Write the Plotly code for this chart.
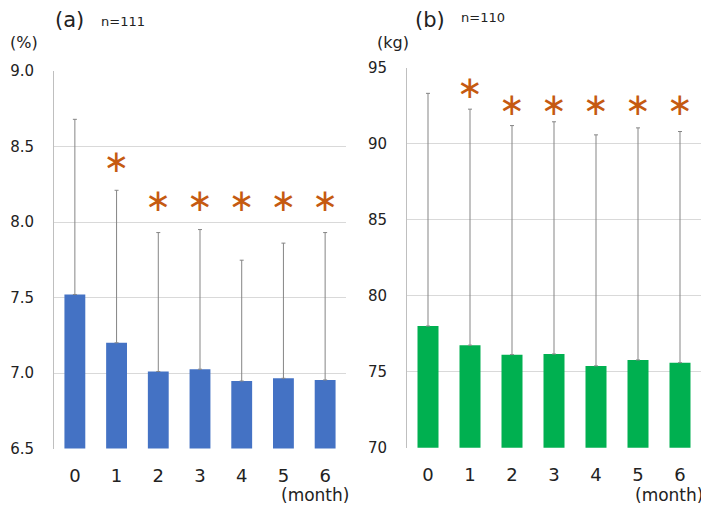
import plotly.graph_objects as go

months = ["0", "1", "2", "3", "4", "5", "6"]

# (a) HbA1c (%), n=111
hba1c_mean = [7.52, 7.20, 7.01, 7.025, 6.947, 6.965, 6.954]
hba1c_sd = [1.16, 1.01, 0.92, 0.925, 0.80, 0.895, 0.976]
hba1c_sig_y = [None, 8.38, 8.125, 8.125, 8.125, 8.125, 8.125]

# (b) body weight (kg), n=110
weight_mean = [78.0, 76.74, 76.12, 76.16, 75.38, 75.77, 75.59]
weight_sd = [15.3, 15.52, 15.06, 15.27, 15.19, 15.26, 15.2]
weight_sig_y = [None, 93.49, 92.37, 92.37, 92.37, 92.37, 92.37]

# page body has an 8px margin: the figure is drawn at (8, 8) in the window
OFF = 8
W, H = 709 - OFF, 509 - OFF
def px(x):
    return (x - OFF) / W
def py(y):
    return 1 - (y - OFF) / H

FONT = "DejaVu Sans"
STAR = "#C55A11"
ERR = "#858585"

fig = go.Figure()

fig.add_trace(go.Bar(
    x=months, y=hba1c_mean, marker=dict(color="#4472C4", line=dict(width=0)),
    error_y=dict(type="data", symmetric=False, array=hba1c_sd,
                 arrayminus=[0] * 7, color=ERR, thickness=1, width=2),
    xaxis="x", yaxis="y", width=0.5, showlegend=False))
fig.add_trace(go.Scatter(
    x=months, y=hba1c_sig_y, mode="text",
    text=["" if v is None else "∗" for v in hba1c_sig_y],
    textfont=dict(family=FONT, size=31, color=STAR),
    textposition="middle center", xaxis="x", yaxis="y", showlegend=False))

fig.add_trace(go.Bar(
    x=months, y=weight_mean, marker=dict(color="#00B050", line=dict(width=0)),
    error_y=dict(type="data", symmetric=False, array=weight_sd,
                 arrayminus=[0] * 7, color=ERR, thickness=1, width=2),
    xaxis="x2", yaxis="y2", width=0.5, showlegend=False))
fig.add_trace(go.Scatter(
    x=months, y=weight_sig_y, mode="text",
    text=["" if v is None else "∗" for v in weight_sig_y],
    textfont=dict(family=FONT, size=31, color=STAR),
    textposition="middle center", xaxis="x2", yaxis="y2", showlegend=False))

xcommon = dict(type="category", showgrid=False, zeroline=False, automargin=False,
               showline=False, ticks="", tickfont=dict(family=FONT, size=18, color="#222"),
               ticklabelstandoff=14, fixedrange=True)
ycommon = dict(showgrid=True, gridcolor="#d9d9d9", gridwidth=1, zeroline=False,
               automargin=False,
               showline=True, linecolor="#bfbfbf", linewidth=1, ticks="",
               tickfont=dict(family=FONT, size=15, color="#222"),
               ticklabelstandoff=16, fixedrange=True)

fig.update_layout(
    width=W, height=H,
    margin=dict(l=0, r=0, t=0, b=0, autoexpand=False),
    paper_bgcolor="white", plot_bgcolor="white",
    font=dict(family=FONT, color="#222"),
    xaxis=dict(xcommon, domain=[px(54), px(346)], anchor="y"),
    yaxis=dict(ycommon, domain=[py(448.5), py(71)], anchor="x",
               range=[6.5, 9.0], tickvals=[6.5, 7.0, 7.5, 8.0, 8.5, 9.0],
               ticktext=["6.5", "7.0", "7.5", "8.0", "8.5", "9.0"]),
    xaxis2=dict(xcommon, domain=[px(407), px(701)], anchor="y2"),
    yaxis2=dict(ycommon, domain=[py(447.7), py(67.5)], anchor="x2",
                range=[70, 95], tickvals=[70, 75, 80, 85, 90, 95]),
    annotations=[
        dict(text="(a)", x=px(53), y=py(20), xref="paper", yref="paper",
             xanchor="left", yanchor="middle", showarrow=False, height=22,
             font=dict(family=FONT, size=21, color="#222")),
        dict(text="n=111", x=px(99), y=py(21), xref="paper", yref="paper",
             xanchor="left", yanchor="middle", showarrow=False,
             font=dict(family=FONT, size=13, color="#222")),
        dict(text="(%)", x=px(8), y=py(43), xref="paper", yref="paper",
             xanchor="left", yanchor="middle", showarrow=False,
             font=dict(family=FONT, size=16, color="#222")),
        dict(text="(month)", x=px(351), y=py(495), xref="paper", yref="paper",
             xanchor="right", yanchor="middle", showarrow=False,
             font=dict(family=FONT, size=17, color="#222")),
        dict(text="(b)", x=px(413), y=py(19.5), xref="paper", yref="paper",
             xanchor="left", yanchor="middle", showarrow=False, height=22,
             font=dict(family=FONT, size=21, color="#222")),
        dict(text="n=110", x=px(459), y=py(18), xref="paper", yref="paper",
             xanchor="left", yanchor="middle", showarrow=False,
             font=dict(family=FONT, size=13, color="#222")),
        dict(text="(kg)", x=px(375), y=py(43), xref="paper", yref="paper",
             xanchor="left", yanchor="middle", showarrow=False,
             font=dict(family=FONT, size=16, color="#222")),
        dict(text="(month)", x=px(705), y=py(495), xref="paper", yref="paper",
             xanchor="right", yanchor="middle", showarrow=False,
             font=dict(family=FONT, size=17, color="#222")),
    ],
)

fig.write_html("out.html")
